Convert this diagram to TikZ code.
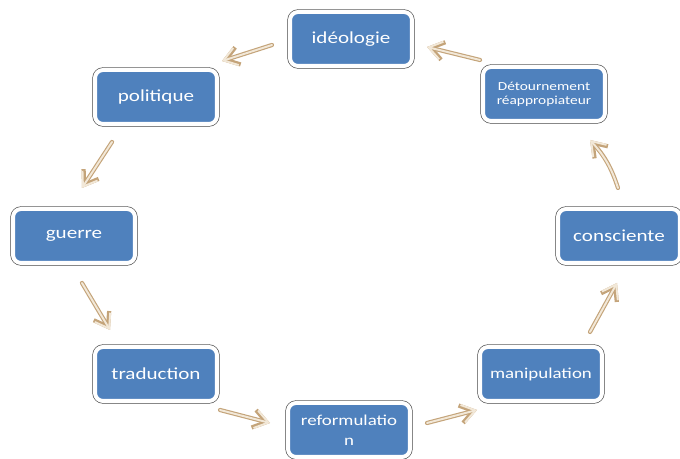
\documentclass[tikz,border=0pt]{standalone}
\usepackage{fontspec}
\setmainfont{Carlito}[FakeStretch=1.25]
\usetikzlibrary{arrows.meta}

\definecolor{boxblue}{RGB}{79,129,189}
\definecolor{boxring}{RGB}{70,70,70}
\definecolor{arrowedge}{RGB}{196,164,122}
\definecolor{arrowfill}{RGB}{242,232,216}

\begin{document}
\begin{tikzpicture}[x=0.02cm,y=0.02cm,line cap=round,line join=round,
    stage/.style={rectangle,rounded corners=0.16cm,minimum width=2.44cm,minimum height=1.08cm,
      inner sep=0pt,align=center,text=white,fill=boxblue,draw=white,line width=0.08cm,
      preaction={draw=boxring,line width=0.105cm},font=\fontsize{9.6}{11}\selectfont},
    small/.style={font=\fontsize{8.6}{11.3}\selectfont},
    tiny/.style={font=\fontsize{7}{8}\selectfont},
    flow/.style={draw=arrowfill,line width=1.1pt,-{Straight Barb[length=2.6mm,width=3.6mm]},
      preaction={draw=arrowedge,line width=2.4pt,-{Straight Barb[length=2.6mm,width=3.6mm]}}}]
  \useasboundingbox (0,0) rectangle (680,459);
  \node[stage] (ideo) at (351,420) {idéologie};
  \node[stage] (pol) at (156,362) {politique};
  \node[stage] (guerre) at (74,223) {guerre};
  \node[stage] (trad) at (156,85) {traduction};
  \node[stage,small] (reform) at (349,29) {reformulatio\\n};
  \node[stage,small] (manip) at (541,85) {manipulation};
  \node[stage] (consc) at (619,223) {consciente};
  \node[stage,tiny] (detour) at (544,365) {Détournement\\réappropiateur};
  \coordinate (a1) at (480,399); \coordinate (b1) at (427,412);
  \coordinate (a2) at (272,414); \coordinate (b2) at (222,398);
  \coordinate (a3) at (112,317); \coordinate (b3) at (82,271);
  \coordinate (a4) at (82,176);  \coordinate (b4) at (110,129);
  \coordinate (a5) at (220,49);  \coordinate (b5) at (270,36);
  \coordinate (a6) at (427,36);  \coordinate (b6) at (477,49);
  \coordinate (a7) at (590,127); \coordinate (b7) at (617,176);
  \coordinate (a8) at (618,271); \coordinate (b8) at (590,319);
  \draw[flow] (a1) -- (b1);
  \draw[flow] (a2) -- (b2);
  \draw[flow] (a3) -- (b3);
  \draw[flow] (a4) -- (b4);
  \draw[flow] (a5) -- (b5);
  \draw[flow] (a6) -- (b6);
  \draw[flow] (a7) -- (b7);
  \draw[flow] (a8) to[bend right=12] (b8);
\end{tikzpicture}
\end{document}
